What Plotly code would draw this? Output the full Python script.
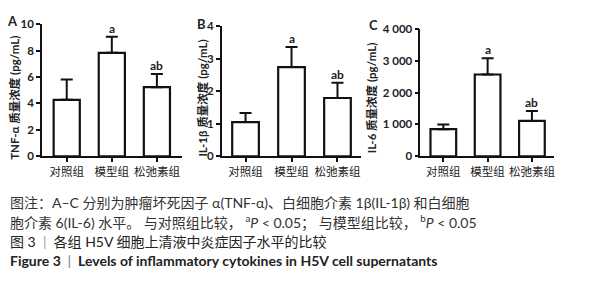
import plotly.graph_objects as go

groups = ["对照组", "模型组", "松弛素组"]

tnf_mean = [4.27, 7.83, 5.23]
tnf_err = [1.54, 1.23, 0.99]
il1b_mean = [1.05, 2.74, 1.79]
il1b_err = [0.28, 0.62, 0.47]
il6_mean = [850, 2570, 1110]
il6_err = [150, 510, 310]

sig_labels = ["", "a", "ab"]

panels = [
    dict(letter="A", mean=tnf_mean, err=tnf_err, title="TNF-α 质量浓度 (pg/mL)",
         xdom=[42/595, 182/595], ydom=[0.48, 0.94], xr=[-0.55, 2.55], yr=[0, 10],
         tickvals=[0, 2, 4, 6, 8, 10], ticktext=["0", "2", "4", "6", "8", "10"],
         letter_xy=(13, 15), title_x=15),
    dict(letter="B", mean=il1b_mean, err=il1b_err, title="IL-1β 质量浓度 (pg/mL)",
         xdom=[222/595, 362/595], ydom=[0.48, 1 - 20/300], xr=[-0.52, 2.52], yr=[0, 4],
         tickvals=[0, 1, 2, 3, 4], ticktext=["0", "1", "2", "3", "4"],
         letter_xy=(202, 18), title_x=203),
    dict(letter="C", mean=il6_mean, err=il6_err, title="IL-6 质量浓度 (pg/mL)",
         xdom=[421/595, 555/595], ydom=[0.48, 1 - 23/300], xr=[-0.52, 2.5], yr=[0, 4000],
         tickvals=[0, 1000, 2000, 3000, 4000], ticktext=["0", "1 000", "2 000", "3 000", "4 000"],
         letter_xy=(374, 19), title_x=373),
]

fig = go.Figure()
annotations = []
num_font = dict(family="Lato, Open Sans, sans-serif", size=11.5, color="#222", weight="bold")
cjk_font = dict(family="Noto Sans CJK SC, sans-serif", size=11.5, color="#222")

for i, p in enumerate(panels):
    ax = "" if i == 0 else str(i + 1)
    fig.add_trace(go.Bar(
        x=groups, y=p["mean"], width=0.58,
        marker=dict(color="white", line=dict(color="#111", width=2.2)),
        error_y=dict(type="data", symmetric=False, array=p["err"], arrayminus=[0, 0, 0],
                     color="#111", thickness=2, width=6),
        xaxis="x" + ax, yaxis="y" + ax, showlegend=False,
    ))
    fig.layout["xaxis" + ax] = dict(
        domain=p["xdom"], range=p["xr"], anchor="y" + ax, type="category",
        showline=True, linecolor="#111", linewidth=1.5, ticks="outside", ticklen=4,
        tickwidth=1.5, tickcolor="#111", tickfont=cjk_font, tickangle=0,
        showgrid=False, zeroline=False, fixedrange=True,
    )
    fig.layout["yaxis" + ax] = dict(
        domain=p["ydom"], range=p["yr"], anchor="x" + ax,
        showline=True, linecolor="#111", linewidth=1.5, ticks="outside", ticklen=4,
        tickwidth=1.5, tickcolor="#111", tickvals=p["tickvals"], ticktext=p["ticktext"],
        tickfont=num_font, showgrid=False, zeroline=False, fixedrange=True,
    )
    for g, m, e, s in zip(groups, p["mean"], p["err"], sig_labels):
        if s:
            annotations.append(dict(
                x=g, y=m + e, xref="x" + ax, yref="y" + ax, text="<b>" + s + "</b>",
                showarrow=False, yanchor="bottom", yshift=-1,
                font=dict(family="Lato, sans-serif", size=12, color="#222")))
    lx, ly = p["letter_xy"]
    annotations.append(dict(x=lx / 595, y=1 - ly / 300, xref="paper", yref="paper",
                            text="<b>" + p["letter"] + "</b>", showarrow=False,
                            xanchor="center", yanchor="middle",
                            font=dict(family="Lato, sans-serif", size=13, color="#222")))
    annotations.append(dict(x=p["title_x"] / 595, y=1 - 95 / 300, xref="paper", yref="paper",
                            text="<b>" + p["title"] + "</b>", showarrow=False, textangle=-90,
                            xanchor="center", yanchor="middle",
                            font=dict(family="Lato, Noto Sans CJK SC, sans-serif", size=11.5,
                                      color="#222")))

cap_font = dict(family="Lato, Noto Sans CJK SC, sans-serif", size=14, color="#333")
captions = [
    (204, "图注：A–C 分别为肿瘤坏死因子 α(TNF-α)、白细胞介素 1β(IL-1β) 和白细胞", cap_font),
    (225, "胞介素 6(IL-6) 水平。 与对照组比较， <sup>a</sup><i>P</i> < 0.05； 与模型组比较， <sup>b</sup><i>P</i> < 0.05", cap_font),
    (245, "图 3  <span style='color:#999'>|</span>  各组 H5V 细胞上清液中炎症因子水平的比较",
     dict(family="Lato, Noto Sans CJK SC, sans-serif", size=14, color="#222")),
    (265, "<b>Figure 3  <span style='color:#999'>|</span>  Levels of inflammatory cytokines in H5V cell supernatants</b>",
     dict(family="Lato, sans-serif", size=14, color="#222")),
]
for y, t, f in captions:
    annotations.append(dict(x=8 / 595, y=1 - y / 300, xref="paper", yref="paper", text=t,
                            showarrow=False, xanchor="left", yanchor="middle", font=f))

fig.update_layout(
    width=595, height=300, margin=dict(l=0, r=0, t=0, b=0),
    paper_bgcolor="white", plot_bgcolor="white", bargap=0.4,
    annotations=annotations,
)

fig.write_html("out.html", config={"displayModeBar": False},
               post_script="document.body.style.margin='0';")
